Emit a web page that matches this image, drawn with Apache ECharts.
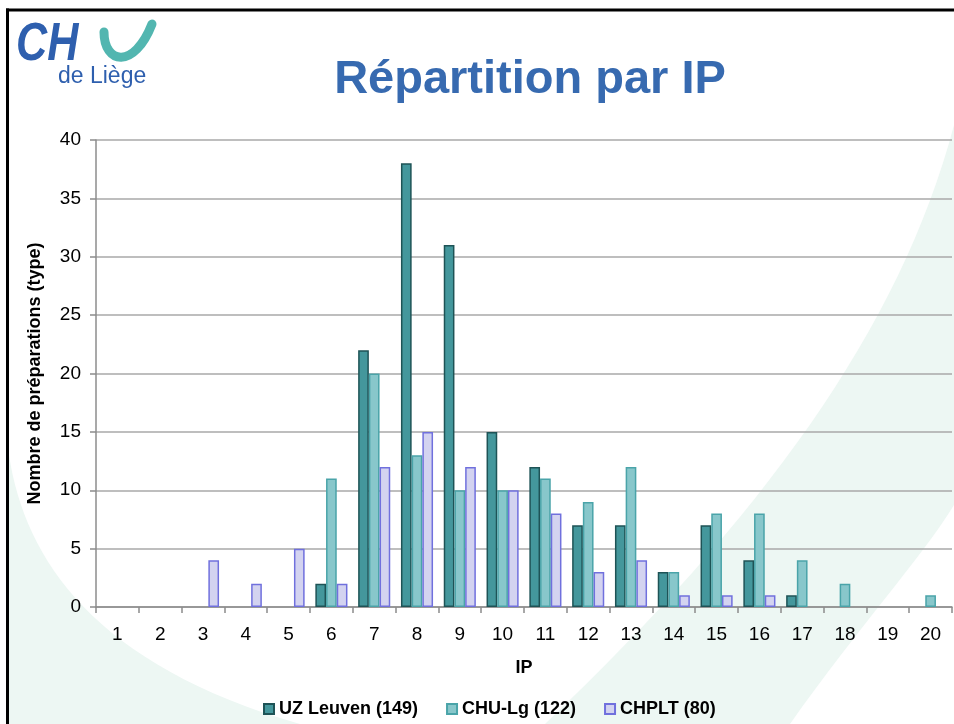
<!DOCTYPE html>
<html>
<head>
<meta charset="utf-8">
<script src="https://cdn.jsdelivr.net/npm/echarts@6/dist/echarts.min.js"></script>
<style>
html,body{margin:0;padding:0;background:#fff;}
#chart{width:954px;height:724px;}
</style>
</head>
<body>
<div id="chart"></div>
<script>
const categories = ['1','2','3','4','5','6','7','8','9','10','11','12','13','14','15','16','17','18','19','20'];
const uzLeuven = [0,0,0,0,0,2,22,38,31,15,12,7,7,3,7,4,1,0,0,0];
const chuLg    = [0,0,0,0,0,11,20,13,10,10,11,9,12,3,8,8,4,2,0,1];
const chplt    = [0,0,4,2,5,2,12,15,12,10,8,3,4,1,1,1,0,0,0,0];
const seriesNames = ['UZ Leuven (149)', 'CHU-Lg (122)', 'CHPLT (80)'];
const titleText = 'Répartition par IP';
const yAxisName = 'Nombre de préparations (type)';
const xAxisName = 'IP';

const FONT = '"Liberation Sans", Arial, sans-serif';

// Decorative background shapes (not data)
echarts.graphic.registerShape('swooshRight', echarts.graphic.extendShape({
  shape: {},
  buildPath(ctx) {
    ctx.moveTo(954, 125);
    ctx.bezierCurveTo(900, 330, 760, 520, 545, 724);
    ctx.lineTo(790, 724);
    ctx.bezierCurveTo(860, 625, 920, 560, 954, 505);
    ctx.closePath();
  }
}));
echarts.graphic.registerShape('swooshLeft', echarts.graphic.extendShape({
  shape: {},
  buildPath(ctx) {
    ctx.moveTo(9, 455);
    ctx.bezierCurveTo(25, 560, 95, 665, 300, 724);
    ctx.lineTo(9, 724);
    ctx.closePath();
  }
}));

const chart = echarts.init(document.getElementById('chart'), null, {renderer: 'canvas'});

const bar = (name, data, fill, border) => ({
  name, type: 'bar',
  data: data.map(v => (v === 0 ? '-' : v)),
  barWidth: 10.7, barGap: '0%',
  itemStyle: {color: fill, borderColor: border, borderWidth: 1.5},
  emphasis: {disabled: true},
  z: 3
});

chart.setOption({
  animation: false,
  backgroundColor: '#ffffff',
  textStyle: {fontFamily: FONT},
  graphic: [
    {type: 'swooshRight', z: -10, silent: true, style: {fill: '#EDF7F3'}},
    {type: 'swooshLeft', z: -10, silent: true, style: {fill: '#EDF7F3'}},
    {type: 'line', z: 10, silent: true, shape: {x1: 7.5, y1: 8.5, x2: 7.5, y2: 724}, style: {stroke: '#000', lineWidth: 3}},
    {type: 'line', z: 10, silent: true, shape: {x1: 6, y1: 10, x2: 954, y2: 10}, style: {stroke: '#000', lineWidth: 3}},
    {type: 'text', z: 10, x: 530, y: 80,
     style: {text: titleText, font: 'bold 47px ' + FONT, fill: '#376AB0', textAlign: 'center', textVerticalAlign: 'middle'}},
    {type: 'text', z: 10, x: 16, y: 45, scaleX: 0.8,
     style: {text: 'CH', font: 'italic bold 54px ' + FONT, fill: '#2E5FAE', textAlign: 'left', textVerticalAlign: 'middle'}},
    {type: 'bezierCurve', z: 10, silent: true,
     shape: {x1: 104, y1: 32, cpx1: 104, cpy1: 64, cpx2: 134, cpy2: 70, x2: 152, y2: 24},
     style: {fill: null, stroke: '#52B6B0', lineWidth: 9, lineCap: 'round'}},
    {type: 'text', z: 10, x: 58, y: 77,
     style: {text: 'de Liège', font: '23px ' + FONT, fill: '#2E5FAE', textAlign: 'left', textVerticalAlign: 'middle'}}
  ],
  grid: {left: 96, right: 2, top: 140, bottom: 117, containLabel: false},
  legend: {
    left: 263, top: 700, padding: 0,
    itemWidth: 10, itemHeight: 10, itemGap: 28,
    icon: 'rect',
    textStyle: {fontSize: 18, fontWeight: 'bold', color: '#000', fontFamily: FONT}
  },
  xAxis: {
    type: 'category', data: categories,
    name: xAxisName, nameLocation: 'middle', nameGap: 52,
    nameTextStyle: {fontSize: 18, fontWeight: 'bold', color: '#000', fontFamily: FONT},
    axisLine: {lineStyle: {color: '#8C8C8C', width: 1.5}},
    axisTick: {show: true, length: 6, lineStyle: {color: '#8C8C8C', width: 1.5}},
    axisLabel: {fontSize: 19, color: '#000', margin: 18, fontFamily: FONT},
    splitLine: {show: false}
  },
  yAxis: {
    type: 'value', min: 0, max: 40, interval: 5,
    name: yAxisName, nameLocation: 'middle', nameGap: 52, nameRotate: 90,
    nameTextStyle: {fontSize: 18, fontWeight: 'bold', color: '#000', fontFamily: FONT},
    axisLine: {show: true, lineStyle: {color: '#8C8C8C', width: 1.5}},
    axisTick: {show: true, length: 6, lineStyle: {color: '#8C8C8C', width: 1.5}},
    axisLabel: {fontSize: 19, color: '#000', margin: 15, fontFamily: FONT},
    splitLine: {show: true, lineStyle: {color: '#A8A8A8', width: 1.5}}
  },
  series: [
    bar(seriesNames[0], uzLeuven, '#44979C', '#1E5356'),
    bar(seriesNames[1], chuLg, '#88C7CB', '#4AA4A9'),
    bar(seriesNames[2], chplt, '#D3D3F0', '#7070DD')
  ]
});
</script>
</body>
</html>
